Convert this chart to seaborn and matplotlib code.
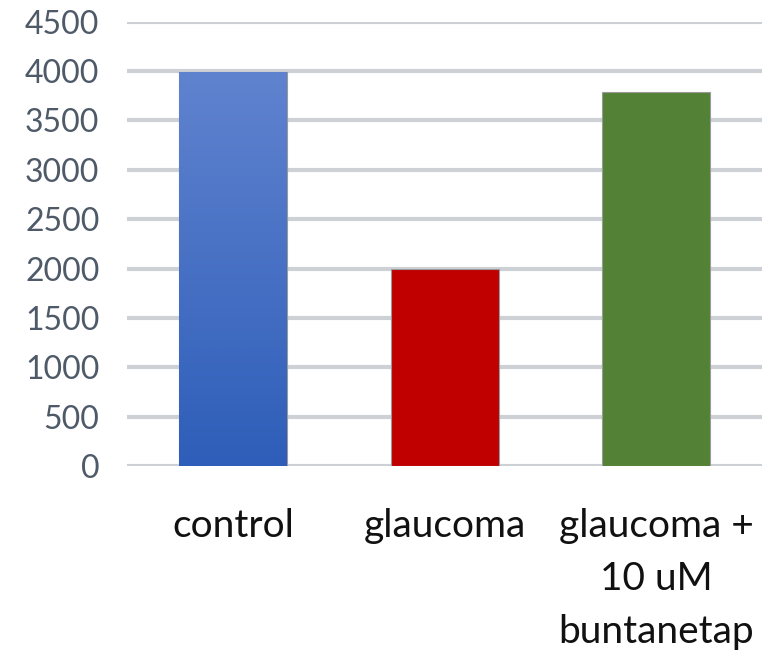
import numpy as np
import pandas as pd
import matplotlib
matplotlib.use("Agg")
import matplotlib.pyplot as plt
import seaborn as sns
from matplotlib.colors import LinearSegmentedColormap

categories = ["control", "glaucoma", "glaucoma +\n10 uM\nbuntanetap"]
values = [3990, 2000, 3790]
colors = ["#4470C8", "#C00000", "#538135"]
yticks = [0, 500, 1000, 1500, 2000, 2500, 3000, 3500, 4000, 4500]

sns.set_theme(style="white")
plt.rcParams["font.family"] = ["Lato", "DejaVu Sans"]

df = pd.DataFrame({"category": categories, "value": values})

fig = plt.figure(figsize=(7.62, 6.59), dpi=100)
ax = fig.add_axes([0.167, 0.293, 0.833, 0.674])

sns.barplot(data=df, x="category", y="value", hue="category", palette=colors,
            saturation=1, width=0.51, ax=ax, legend=False, edgecolor="#9a9a9a",
            linewidth=0.8, zorder=3)

ax.set_ylim(0, 4500)
ax.set_xlim(-0.5, 2.5)
ax.set_yticks(yticks)
ax.set_yticklabels([str(t) for t in yticks])
ax.yaxis.grid(True, color="#cdd1d6", linewidth=3, zorder=0)
ax.set_axisbelow(True)
for s in ax.spines.values():
    s.set_visible(False)
ax.set_xlabel("")
ax.set_ylabel("")
ax.tick_params(axis="y", length=0, pad=20, labelsize=23, labelcolor="#4f5a69")
ax.tick_params(axis="x", length=0, pad=30, labelsize=28, labelcolor="#111111")
for lbl in ax.get_xticklabels():
    lbl.set_linespacing(1.6)

# gradient on first bar
p = ax.patches[0]
x0, y0 = p.get_x(), p.get_y()
w, h = p.get_width(), p.get_height()
grad = np.linspace(0, 1, 256).reshape(-1, 1)
cmap = LinearSegmentedColormap.from_list("g", ["#2E5EB9", "#6083CF"])
im = ax.imshow(grad, cmap=cmap, aspect="auto", extent=[x0, x0 + w, y0, y0 + h],
               origin="lower", zorder=3.5)
im.set_clip_path(p)
ax.set_xlim(-0.5, 2.5)
ax.set_ylim(0, 4500)

fig.savefig("out.png", dpi=100)
